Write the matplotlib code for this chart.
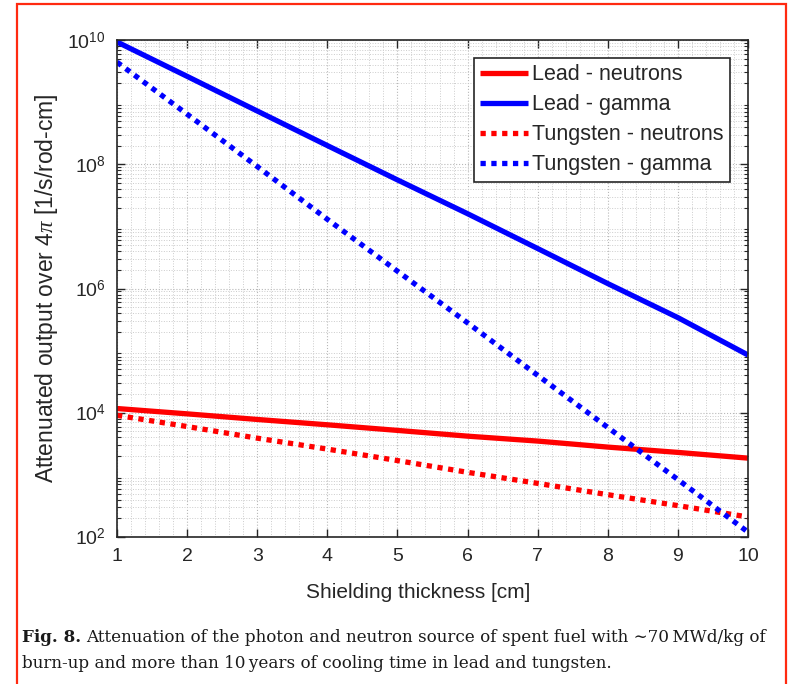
import matplotlib
matplotlib.use("Agg")
import matplotlib.pyplot as plt
from matplotlib.patches import Rectangle
from matplotlib.ticker import LogLocator, MultipleLocator, NullFormatter, FixedLocator

plt.rcParams['font.family'] = ['Liberation Sans', 'DejaVu Sans']
plt.rcParams['mathtext.fontset'] = 'custom'
plt.rcParams['mathtext.rm'] = 'Liberation Sans'
plt.rcParams['mathtext.it'] = 'Liberation Serif:italic'

# Shielding thickness [cm]
thickness = [1, 2, 3, 4, 5, 6, 7, 8, 9, 10]

# Attenuated output over 4 pi [1/s/rod-cm]
lead_neutrons = [1.17e4, 9.6e3, 7.8e3, 6.4e3, 5.2e3, 4.2e3, 3.5e3, 2.8e3, 2.3e3, 1.86e3]
lead_gamma = [9.3e9, 2.6e9, 7.2e8, 2.0e8, 5.6e7, 1.6e7, 4.4e6, 1.2e6, 3.4e5, 8.5e4]
tungsten_neutrons = [9.1e3, 6.0e3, 3.9e3, 2.6e3, 1.7e3, 1.1e3, 7.3e2, 4.8e2, 3.2e2, 2.1e2]
tungsten_gamma = [4.4e9, 6.4e8, 9.2e7, 1.3e7, 1.9e6, 2.8e5, 4.0e4, 5.8e3, 8.4e2, 1.2e2]

series_labels = ['Lead - neutrons', 'Lead - gamma', 'Tungsten - neutrons', 'Tungsten - gamma']
x_ticks = [1, 2, 3, 4, 5, 6, 7, 8, 9, 10]
y_ticks = [1e2, 1e4, 1e6, 1e8, 1e10]
y_tick_labels = ['$10^{2}$', '$10^{4}$', '$10^{6}$', '$10^{8}$', '$10^{10}$']

W, H = 789, 684
fig = plt.figure(figsize=(W / 100, H / 100), dpi=100)

ax = fig.add_axes([117 / W, 1 - 537 / H, (748 - 117) / W, (537 - 40) / H])

red = '#ff0000'
blue = '#0000ff'
dotted = (0, (1, 1.05))
lw = 3.8

ax.plot(thickness, lead_neutrons, color=red, lw=lw, label=series_labels[0], solid_capstyle='butt')
ax.plot(thickness, lead_gamma, color=blue, lw=lw, label=series_labels[1], solid_capstyle='butt')
ax.plot(thickness, tungsten_neutrons, color=red, lw=lw, ls=dotted, label=series_labels[2])
ax.plot(thickness, tungsten_gamma, color=blue, lw=lw, ls=dotted, label=series_labels[3])

ax.set_yscale('log')
ax.set_xlim(1, 10)
ax.set_ylim(1e2, 1e10)

ax.xaxis.set_major_locator(FixedLocator(x_ticks))
ax.xaxis.set_minor_locator(MultipleLocator(0.2))
ax.yaxis.set_major_locator(FixedLocator(y_ticks))
ax.set_yticklabels(y_tick_labels)
ax.yaxis.set_minor_locator(LogLocator(base=10, subs=range(2, 10), numticks=20))
ax.yaxis.set_minor_formatter(NullFormatter())

ax.tick_params(which='both', direction='in', top=True, right=True, colors='#262626',
               labelcolor='#262626')
ax.tick_params(which='major', length=6, width=1.0, labelsize=14, pad=8)
ax.tick_params(which='minor', length=3, width=0.8)
ax.tick_params(axis='x', which='minor', length=0)

ax.grid(True, which='major', color='#b8b8b8', ls=':', lw=0.8)
ax.grid(True, which='minor', color='#cccccc', ls=':', lw=0.7)
ax.set_axisbelow(True)

for s in ax.spines.values():
    s.set_color('#262626')
    s.set_linewidth(1.2)

ax.set_xlabel('Shielding thickness [cm]', fontsize=15, color='#262626')
ax.xaxis.set_label_coords(0.477, -0.092)
ax.set_ylabel(r'Attenuated output over 4$\mathit{\pi}$ [1/s/rod-cm]', fontsize=16.5,
              color='#262626')
ax.yaxis.set_label_coords(-0.09, 0.5)

leg = ax.legend(loc='upper right', bbox_to_anchor=(0.9715, 0.964), fontsize=15.5,
                frameon=True, fancybox=False, edgecolor='#262626', framealpha=1,
                handlelength=2.2, handletextpad=0.2, borderpad=0.3, labelspacing=0.42,
                borderaxespad=0)
leg.get_frame().set_linewidth(1.2)
for t in leg.get_texts():
    t.set_color('#262626')

# Caption beneath the plot
cap_font = ['DejaVu Serif']
cap_size = 12.1
cap_color = '#1a1a1a'
renderer = fig.canvas.get_renderer()
lead = fig.text(22 / W, 1 - 642 / H, 'Fig. 8.', fontsize=cap_size, fontweight='bold',
                family=cap_font, va='baseline', ha='left', color=cap_color)
lead_w = lead.get_window_extent(renderer).width
fig.text((22 + lead_w + 5) / W, 1 - 642 / H,
         'Attenuation of the photon and neutron source of spent fuel with \u223c70\u2009MWd/kg of',
         fontsize=cap_size, family=cap_font, va='baseline', ha='left', color=cap_color)
fig.text(22 / W, 1 - 668 / H,
         'burn-up and more than 10\u2009years of cooling time in lead and tungsten.',
         fontsize=cap_size, family=cap_font, va='baseline', ha='left', color=cap_color)

# Frame around the figure
fig.patches.append(Rectangle((17 / W, -0.05), (786 - 17) / W, 1.05 - 4 / H,
                             transform=fig.transFigure, fill=False,
                             edgecolor='#ff2a10', lw=1.6))

fig.savefig('out.png', dpi=100)
